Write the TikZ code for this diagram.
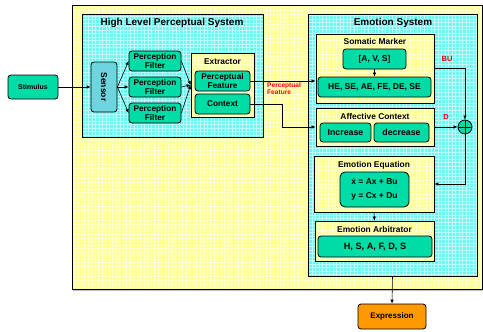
\documentclass[tikz,border=0pt]{standalone}
\usepackage{fontspec}
\setmainfont{Liberation Sans}
\usepackage{tikz}
\usetikzlibrary{arrows.meta, positioning, calc, shadows}
\definecolor{paneyellow}{RGB}{255,255,153}
\definecolor{gridyellow}{RGB}{255,255,200}
\definecolor{panecyan}{RGB}{110,245,240}
\definecolor{gridcyan}{RGB}{185,255,255}
\definecolor{itemgreen}{RGB}{0,220,165}
\definecolor{sensorblue}{RGB}{110,212,222}
\definecolor{exporange}{RGB}{255,153,0}
\newcommand{\Fs}[1]{\fontsize{#1}{#1}\selectfont\bfseries}
\tikzset{
    ybox/.style={draw, line width=0.8pt, fill=paneyellow, path picture={\draw[gridyellow, line width=0.3pt] (path picture bounding box.south west) grid[step=3.5pt] (path picture bounding box.north east);}},
    cbox/.style={draw, line width=0.8pt, fill=panecyan, path picture={\draw[gridcyan, line width=0.4pt] (path picture bounding box.south west) grid[step=3.5pt] (path picture bounding box.north east);}},
    item/.style={draw, line width=0.8pt, rounded corners=3pt, fill=itemgreen, align=center, inner sep=0pt, font=\Fs{8.3}},
    title/.style={inner sep=0pt, font=\Fs{10}},
    subtitle/.style={inner sep=0pt, font=\Fs{8.4}},
    redlabel/.style={inner sep=0pt, text=red, align=left, font=\fontsize{6.6}{7}\selectfont\bfseries},
    link/.style={-{Latex[length=4pt,width=3.5pt]}, line width=0.6pt},
}
\begin{document}
\begin{tikzpicture}[x=1pt, y=-1pt]
    \useasboundingbox (0,0) rectangle (483,332);

    % outer frame
    \node[ybox, drop shadow={shadow xshift=1pt, shadow yshift=-1.5pt, fill=gray}, minimum width=410, minimum height=284] (frame) at (277,147) {};

    % perceptual system
    \node[cbox, minimum width=181, minimum height=123] (hlps) at (172.5,75.5) {};
    \node[title] (hlpsT) at (172,23) {High Level Perceptual System};

    \node[item, font=\Fs{7}, minimum width=50, minimum height=24] (stim) at (33,87) {Stimulus};
    \node[item, fill=sensorblue, minimum width=26, minimum height=50] (sensor) at (104,87) {};
    \node[inner sep=0pt, rotate=-90, font=\Fs{8.5}] (sensorT) at (sensor) {Sensor};

    \node[item, minimum width=52, minimum height=20] (pf1) at (155,61) {Perception\\Filter};
    \node[item, minimum width=52, minimum height=20] (pf2) at (155,87) {Perception\\Filter};
    \node[item, minimum width=52, minimum height=20] (pf3) at (155,113) {Perception\\Filter};

    \node[ybox, minimum width=63, minimum height=64] (extr) at (222.5,85) {};
    \node[subtitle] (extrT) at (222.5,62) {Extractor};
    \node[item, minimum width=55, minimum height=20] (feat) at (222.5,81) {Perceptual\\Feature};
    \node[item, minimum width=55, minimum height=20] (ctx) at (222.5,104) {Context};

    % emotion system
    \node[cbox, minimum width=169, minimum height=262] (emo) at (392.5,145) {};
    \node[title] (emoT) at (393,23) {Emotion System};

    \node[ybox, minimum width=118, minimum height=69] (soma) at (375,68.5) {};
    \node[subtitle] (somaT) at (375,41) {Somatic Marker};
    \node[item, font=\Fs{8.5}, minimum width=63, minimum height=20] (avs) at (374.5,59) {[A, V, S]};
    \node[item, font=\Fs{8.5}, minimum width=113, minimum height=20] (marks) at (374.5,87) {HE, SE, AE, FE, DE, SE};

    \node[ybox, minimum width=118, minimum height=38] (aff) at (375,127) {};
    \node[subtitle] (affT) at (375,116) {Affective Context};
    \node[item, font=\Fs{8.8}, minimum width=51, minimum height=19] (inc) at (345.5,132.5) {Increase};
    \node[item, font=\Fs{8.8}, minimum width=55, minimum height=19] (dec) at (401.5,132.5) {decrease};

    \node[ybox, minimum width=120, minimum height=56] (eq) at (374,184) {};
    \node[subtitle] (eqT) at (374,165) {Emotion Equation};
    \node[item, rounded corners=5pt, font=\fontsize{8.5}{14}\selectfont\bfseries, minimum width=69, minimum height=35] (eqn) at (374.5,189.5) {\.x = Ax + Bu\\y = Cx + Du};

    \node[ybox, minimum width=119, minimum height=40] (arb) at (374.5,241) {};
    \node[subtitle] (arbT) at (374.5,229) {Emotion Arbitrator};
    \node[item, font=\Fs{9.2}, minimum width=114, minimum height=21] (hsafds) at (375,246.5) {H, S, A, F, D, S};

    \node[circle, draw, line width=0.8pt, fill=itemgreen, minimum size=14, inner sep=0pt] (sum) at (465,127) {};
    \draw[line width=0.8pt] (sum.north) -- (sum.south) (sum.west) -- (sum.east);

    \node[item, font=\Fs{8}, fill=exporange, minimum width=68, minimum height=25] (expr) at (392,316.5) {Expression};

    % connectors
    \draw[link] (stim) -- (sensor);
    \foreach \f in {pf1, pf2, pf3} {
        \draw[link] (sensor.east) -- (\f.west);
        \draw[link] (\f.east) -- (extr.west);
    }
    \draw[link] (feat.east) -- (feat.east -| soma.west);
    \node[redlabel, anchor=north west] (featL) at (267,83) {Perceptual\\Feature};
    \coordinate (ctxbend) at (282,104);
    \draw[link] (ctx.east) -- (ctxbend) |- (aff.west);
    \draw[link] (avs) -- (marks);
    \draw[link] (soma.east) -| (sum.north);
    \node[redlabel, font=\Fs{7.5}] (buL) at (447,59) {BU};
    \draw[link] (aff.east) -- (sum.west);
    \node[redlabel, font=\Fs{7.5}] (dL) at (446,117) {D};
    \draw[link] (sum.south) |- (eq.east);
    \draw[link] (eq.south) -- (arb.north);
    \draw[link] (emo.south) -- (expr.north);
\end{tikzpicture}
\end{document}
